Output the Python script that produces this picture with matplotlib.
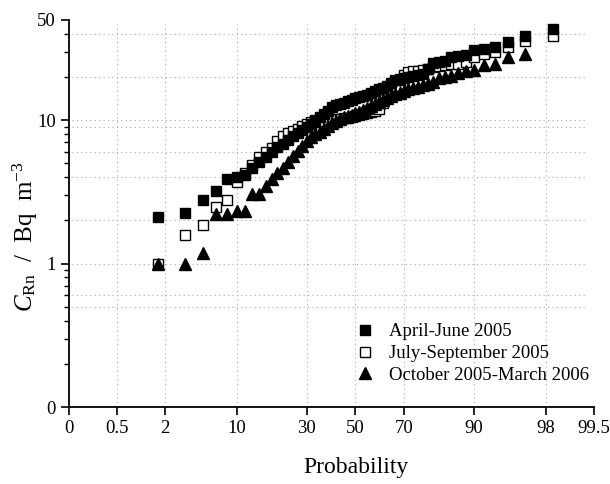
import numpy as np
import matplotlib
matplotlib.use("Agg")
import matplotlib.pyplot as plt
from matplotlib.ticker import FixedLocator, NullLocator, LogLocator, NullFormatter
from statistics import NormalDist

# Radon concentration, sorted (Bq m-3)
april_june = [2.1, 2.27, 2.76, 3.19, 3.87, 3.99, 4.12, 4.62, 5.09, 5.51,
              5.97, 6.48, 6.79, 7.25, 7.73, 8.11, 8.51, 8.93, 9.38, 10.0,
              10.5, 11.0, 11.6, 12.3, 12.7, 12.9, 13.1, 13.6, 13.8, 14.2,
              14.5, 14.7, 15.0, 15.4, 16.0, 16.5, 16.7, 17.3, 18.1, 19.0,
              19.4, 19.7, 20.0, 20.3, 20.6, 21.0, 22.7, 25.0, 25.5, 25.9,
              27.6, 28.0, 28.5, 30.9, 31.4, 32.4, 35.1, 38.7, 43.3]
july_sept = [1.0, 1.57, 1.87, 2.46, 2.76, 3.69, 4.26, 4.84, 5.51, 5.97,
             6.37, 7.13, 7.73, 8.11, 8.38, 8.65, 9.08, 9.38, 9.68, 9.7,
             9.84, 9.84, 10.0, 10.0, 10.2, 10.2, 10.3, 10.3, 10.5, 10.7,
             10.8, 11.0, 11.2, 11.4, 11.6, 11.9, 13.1, 14.7, 16.0, 17.3,
             19.0, 20.6, 21.7, 22.0, 22.0, 22.4, 22.7, 23.5, 23.9, 24.3,
             24.6, 24.6, 25.5, 27.6, 28.9, 29.9, 32.4, 35.7, 38.7]
oct_march = [1.0, 1.0, 1.19, 2.2, 2.2, 2.31, 2.31, 3.04, 3.04, 3.45,
             3.87, 4.26, 4.62, 5.09, 5.6, 6.07, 6.58, 7.13, 7.61, 7.98,
             8.24, 8.65, 9.08, 9.53, 9.84, 10.2, 10.5, 10.7, 10.8, 11.2,
             11.4, 11.7, 12.1, 12.5, 12.9, 13.4, 13.8, 14.3, 14.7, 15.2,
             15.4, 16.0, 16.5, 16.7, 17.0, 17.6, 17.9, 18.4, 19.7, 20.0,
             20.3, 21.3, 22.0, 22.4, 24.3, 24.6, 27.6, 28.9]

labels = ["April-June 2005", "July-September 2005", "October 2005-March 2006"]

x_ticks = [0.1, 0.5, 2, 10, 30, 50, 70, 90, 98, 99.5]
x_ticklabels = ["0", "0.5", "2", "10", "30", "50", "70", "90", "98", "99.5"]
y_ticks = [0.1, 1, 10, 50]
y_ticklabels = ["0", "1", "10", "50"]
y_grid = [0.5, 0.6, 1, 2, 4, 6, 9, 10, 20, 40]

# plotting positions i/(n+1) in percent
n_rank = 59
positions = [100.0 * i / (n_rank + 1) for i in range(1, n_rank + 1)]

nd = NormalDist()


def _ppf1(p):
    if np.isnan(p):
        return np.nan
    return nd.inv_cdf(min(max(p / 100.0, 1e-9), 1 - 1e-9))


def _cdf1(z):
    if np.isnan(z):
        return np.nan
    return 100.0 * nd.cdf(z)


_ppf = np.vectorize(_ppf1, otypes=[float])
_cdf = np.vectorize(_cdf1, otypes=[float])


def forward(p):
    return _ppf(np.asarray(p, dtype=float))


def inverse(z):
    return _cdf(np.asarray(z, dtype=float))


plt.rcParams["font.family"] = ["Liberation Serif", "DejaVu Serif"]
plt.rcParams["mathtext.fontset"] = "custom"
plt.rcParams["mathtext.rm"] = "Liberation Serif"
plt.rcParams["mathtext.it"] = "Liberation Serif:italic"

fig = plt.figure(figsize=(6.1, 4.84), dpi=100)
ax = fig.add_axes([0.113, 0.159, 0.861, 0.800])

ax.set_xscale("function", functions=(forward, inverse))
ax.set_yscale("log")

# open squares below, filled squares and triangles on top
hb, = ax.plot(positions[:len(july_sept)], july_sept, "s", ms=6.5, mfc="white",
              mec="black", mew=1.0, ls="none", zorder=3)
ha, = ax.plot(positions[:len(april_june)], april_june, "s", ms=6.5, mfc="black",
              mec="black", ls="none", zorder=4)
hc, = ax.plot(positions[:len(oct_march)], oct_march, "^", ms=8, mfc="black",
              mec="black", ls="none", zorder=5)

ax.set_xlim(0.1, 99.5)
ax.set_ylim(0.1, 50)

ax.xaxis.set_major_locator(FixedLocator(x_ticks))
ax.set_xticklabels(x_ticklabels)
ax.xaxis.set_minor_locator(NullLocator())
ax.yaxis.set_major_locator(FixedLocator(y_ticks))
ax.set_yticklabels(y_ticklabels)
ax.yaxis.set_minor_locator(LogLocator(base=10, subs=np.arange(2, 10)))
ax.yaxis.set_minor_formatter(NullFormatter())

# dotted grid
for p in x_ticks[1:-1]:
    ax.axvline(p, ymax=0.99, color="#aaaaaa", ls=(0, (1, 3)), lw=0.8, zorder=1)
for v in y_grid:
    ax.axhline(v, xmin=0.005, xmax=0.985, color="#aaaaaa", ls=(0, (1, 3)),
               lw=0.8, zorder=1)

for s in ["top", "right"]:
    ax.spines[s].set_visible(False)
for s in ["left", "bottom"]:
    ax.spines[s].set_linewidth(1.3)

ax.tick_params(axis="both", which="major", direction="out", length=6, width=1.2,
               labelsize=13.5)
ax.tick_params(axis="y", which="minor", direction="out", length=3.5, width=1.0)

ax.set_xlabel("Probability", fontsize=17)
ax.xaxis.set_label_coords(0.547, -0.13)
ax.set_ylabel(r"$C_{\mathrm{Rn}}$  /  Bq  m$^{-3}$", fontsize=18)
ax.yaxis.set_label_coords(-0.055, 0.44)

ax.legend([ha, hb, hc], labels, loc="lower right", bbox_to_anchor=(1.005, 0.04),
          frameon=False, fontsize=13.5, handletextpad=0.7, labelspacing=0.25,
          borderaxespad=0.0, handlelength=1.2)

fig.savefig("out.png", dpi=100)
